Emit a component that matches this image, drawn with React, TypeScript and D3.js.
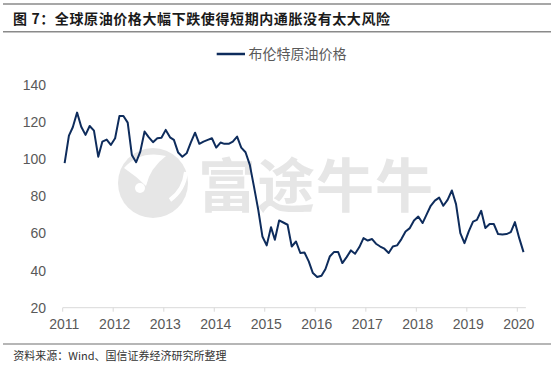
import React from "react";
import * as d3 from "d3";

const TITLE = "图 7：全球原油价格大幅下跌使得短期内通胀没有太大风险";
const SOURCE = "资料来源：Wind、国信证券经济研究所整理";
const SERIES_NAME = "布伦特原油价格";
const WATERMARK = "富途牛牛";

const START_YEAR = 2011;
const YEAR_TICKS = [2011, 2012, 2013, 2014, 2015, 2016, 2017, 2018, 2019, 2020];
const Y_TICKS = [20, 40, 60, 80, 100, 120, 140];

// Monthly Brent price, Jan 2011 - Feb 2020
const BRENT = [
  97.7, 112.5, 117, 124.9, 117.3, 112.9, 117.7, 115.2, 101.2, 109.3, 110.4, 107.5,
  111.1, 123, 123.1, 119.5, 102.1, 98.2, 103.9, 114.7, 111.6, 109.0, 111.1, 111.4,
  115.6, 111.6, 110.2, 103.4, 101.2, 103, 108.8, 114.1, 108.1, 109.3, 110.2, 111.1,
  106.1, 108.8, 108.1, 108.1, 109.3, 112, 106.1, 103.6, 96.8, 85.1, 72.6, 58.3,
  53.5, 63.3, 56.5, 66.9, 65.8, 64.6, 52.9, 55.6, 49.4, 49.7, 44.9, 38.6,
  36.5, 37.2, 40.8, 47.5, 49.9, 49.9, 44, 47.2, 50.8, 49, 52.6, 57.4,
  56.1, 56.9, 54.4, 52.9, 51.7, 49.4, 52.9, 53.5, 56.9, 61, 62.8, 66.9,
  69, 65.5, 69.9, 74.8, 77.6, 79.2, 74.8, 78, 83, 75.7, 60.1, 54.7,
  61, 66.3, 67.2, 72.1, 62.8, 65, 65, 59.6, 59.4, 59.6, 60.6, 66,
  57.4, 49.9,
];

const W = 554;
const H = 367;
const NAVY = "#0e2c5c";
const NUM_FONT = "'Liberation Sans', Arial, sans-serif";
const CJK_FONT = "'Noto Sans CJK SC', 'Liberation Sans', sans-serif";

export default function App() {
  const data = BRENT.map((v, i) => ({ date: new Date(START_YEAR, i, 15), v }));

  const x = d3
    .scaleTime()
    .domain([new Date(START_YEAR, 0, 1), new Date(2020, 0, 1)])
    .range([62.7, 517.3]);
  const y = d3.scaleLinear().domain([20, 140]).range([307.7, 84.5]);

  const line = d3
    .line<{ date: Date; v: number }>()
    .x((d) => x(d.date))
    .y((d) => y(d.v))
    .curve(d3.curveLinear);

  const axisEnd = x(new Date(2020, 2, 3));

  return (
    <svg
      width={W}
      height={H}
      viewBox={`0 0 ${W} ${H}`}
      style={{ position: "absolute", left: 0, top: 0, background: "#fff" }}
    >
      <rect x={0} y={0} width={W} height={H} fill="#fff" />
      {/* title block */}
      <line x1={3} x2={551} y1={4} y2={4} stroke="#8a8a8a" strokeWidth={1.5} />
      <text
        x={13}
        y={24}
        fontFamily={CJK_FONT}
        fontSize={14}
        fontWeight="bold"
        fill="#1a1a1a"
        letterSpacing={0.6}
      >
        {TITLE}
      </text>
      <line x1={3} x2={551} y1={31.7} y2={31.7} stroke="#8a8a8a" strokeWidth={1.5} />

      {/* watermark */}
      <g>
        <circle cx={153} cy={183} r={35} fill="#e6e6e6" />
        <path
          d="M 124 168 Q 140 150 166 156 Q 150 168 146 186 Q 136 176 124 168 Z"
          fill="#ffffff"
        />
        <circle cx={140} cy={188} r={5} fill="#ffffff" />
        <path d="M 170 200 Q 184 190 186 172" stroke="#ffffff" strokeWidth={4} fill="none" />
        <text
          x={198}
          y={207}
          fontFamily={CJK_FONT}
          fontSize={58}
          fontWeight="bold"
          fill="#e6e6e6"
          letterSpacing={1}
        >
          {WATERMARK}
        </text>
      </g>

      {/* legend */}
      <line x1={216.7} x2={245} y1={54} y2={54} stroke={NAVY} strokeWidth={2.5} />
      <text x={248.5} y={59.3} fontFamily={CJK_FONT} fontSize={14} fill="#595959">
        {SERIES_NAME}
      </text>

      {/* y axis labels */}
      {Y_TICKS.map((t) => (
        <text
          key={t}
          x={46}
          y={y(t)}
          dy="0.36em"
          textAnchor="end"
          fontFamily={NUM_FONT}
          fontSize={14}
          fill="#595959"
        >
          {t}
        </text>
      ))}

      {/* x axis */}
      <line x1={x.range()[0]} x2={axisEnd} y1={y(20)} y2={y(20)} stroke="#d9d9d9" strokeWidth={1} />
      {YEAR_TICKS.map((yr) => {
        const px = x(new Date(yr, 0, 1));
        return (
          <g key={yr}>
            <line x1={px} x2={px} y1={y(20)} y2={y(20) + 4} stroke="#d9d9d9" strokeWidth={1} />
            <text
              x={px + 1.5}
              y={329}
              textAnchor="middle"
              fontFamily={NUM_FONT}
              fontSize={14}
              fill="#595959"
            >
              {yr}
            </text>
          </g>
        );
      })}

      {/* series */}
      <path d={line(data) || ""} fill="none" stroke={NAVY} strokeWidth={2} strokeLinejoin="round" />

      {/* source */}
      <line x1={3} x2={551} y1={344} y2={344} stroke="#6e6e6e" strokeWidth={1.2} />
      <text x={13.3} y={359.5} fontFamily={CJK_FONT} fontSize={11} fill="#333">
        {SOURCE}
      </text>
    </svg>
  );
}
